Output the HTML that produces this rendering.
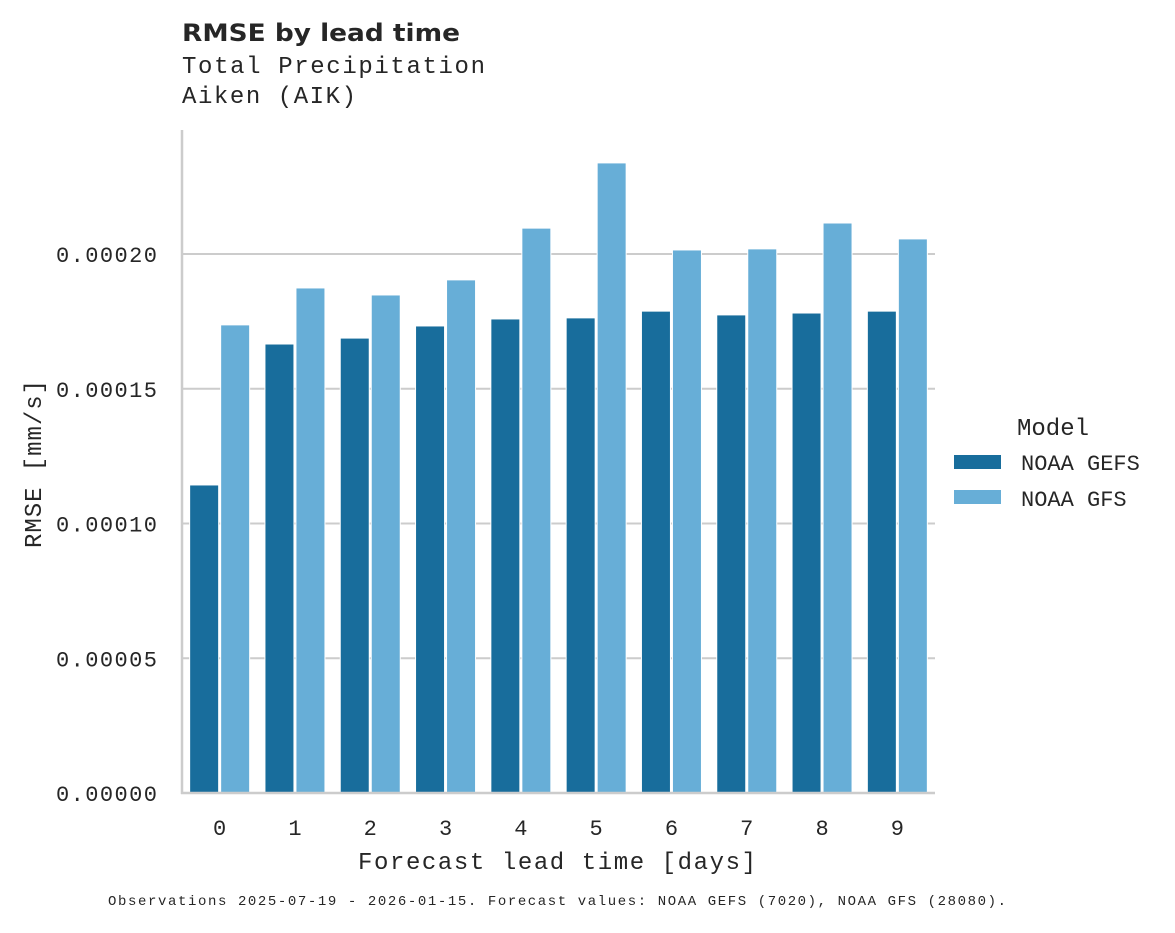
<!DOCTYPE html>
<html><head><meta charset="utf-8"><style>
html,body{margin:0;padding:0;background:#fff;}
svg text{font-family:"Liberation Mono",monospace;fill:#262626;}
</style></head><body>
<svg id="chart" width="1175" height="928" xmlns="http://www.w3.org/2000/svg">
<text x="182" y="41" textLength="278" lengthAdjust="spacingAndGlyphs" style="font-family:'DejaVu Sans','Liberation Sans',sans-serif;font-weight:bold;font-size:24px">RMSE by lead time</text>
<text x="182" y="73" font-size="24" textLength="303">Total Precipitation</text>
<text x="182" y="103" font-size="24" textLength="174">Aiken (AIK)</text>
<g id="grid"></g>
<g id="bars"></g>
<g id="axes"></g>
<text x="358" y="869" font-size="24" textLength="398">Forecast lead time [days]</text>
<text transform="translate(41,464) rotate(-90)" font-size="24" text-anchor="middle" textLength="168">RMSE [mm/s]</text>
<g>
<text x="1053" y="435" font-size="24" text-anchor="middle">Model</text>
<rect x="954" y="455" width="47" height="14" fill="#186d9c"/>
<text x="1021" y="470" font-size="22">NOAA GEFS</text>
<rect x="954" y="490" width="47" height="14" fill="#67aed7"/>
<text x="1021" y="506" font-size="22">NOAA GFS</text>
</g>
<text x="108" y="905" font-size="14" textLength="898">Observations 2025-07-19 - 2026-01-15. Forecast values: NOAA GEFS (7020), NOAA GFS (28080).</text>
</svg>
<script>
const categories = ["0","1","2","3","4","5","6","7","8","9"];
const gefsValues = [0.0001143,0.0001666,0.0001688,0.0001733,0.0001759,0.0001763,0.0001788,0.0001774,0.0001781,0.0001788];
const gfsValues = [0.0001737,0.0001874,0.0001848,0.0001904,0.0002096,0.0002338,0.0002015,0.0002019,0.0002115,0.0002056];
const yTicks = [0,0.00005,0.0001,0.00015,0.0002];
const yTickLabels = ["0.00000","0.00005","0.00010","0.00015","0.00020"];

const NS="http://www.w3.org/2000/svg";
const x0=182,x1=935,yBase=793,yTopPx=254,yTopVal=0.0002;
function yScale(v){return yBase-(v/yTopVal)*(yBase-yTopPx);}
const band=(x1-x0)/categories.length;
function xCenter(i){return x0+band*(i+0.5);}
function mk(tag,attrs,parent){const e=document.createElementNS(NS,tag);for(const k in attrs)e.setAttribute(k,attrs[k]);parent.appendChild(e);return e;}
const grid=document.getElementById('grid'),bars=document.getElementById('bars'),axes=document.getElementById('axes');
yTicks.forEach((t,i)=>{
  const y=yScale(t);
  if(t>0){const l=mk('line',{x1:x0,x2:x1,y1:y,y2:y,stroke:'#cccccc','stroke-width':2},grid);
  
  }
  const tx=mk('text',{x:56,y:y+8,'font-size':22,textLength:101},axes);
  tx.textContent=yTickLabels[i];
  
  
});
const bw=29;
categories.forEach((c,i)=>{
  const cx=xCenter(i);
  const y1=yScale(gefsValues[i]);
  const b1=mk('rect',{x:cx-bw-1,y:y1,width:bw,height:yBase-y1,fill:'#186d9c',stroke:'#fff','stroke-width':1},bars);
  
  
  const y2=yScale(gfsValues[i]);
  const b2=mk('rect',{x:cx+1,y:y2,width:bw,height:yBase-y2,fill:'#67aed7',stroke:'#fff','stroke-width':1},bars);
  
  
  const tx=mk('text',{x:cx,y:835,'font-size':22,'text-anchor':'middle'},axes);
  tx.textContent=c;
  
  
});
const ya=mk('line',{x1:x0,x2:x0,y1:130,y2:yBase+1,stroke:'#cccccc','stroke-width':2.5},axes);


const xa=mk('line',{x1:x0-1,x2:x1,y1:yBase,y2:yBase,stroke:'#cccccc','stroke-width':2.5},axes);


</script>
</body></html>
